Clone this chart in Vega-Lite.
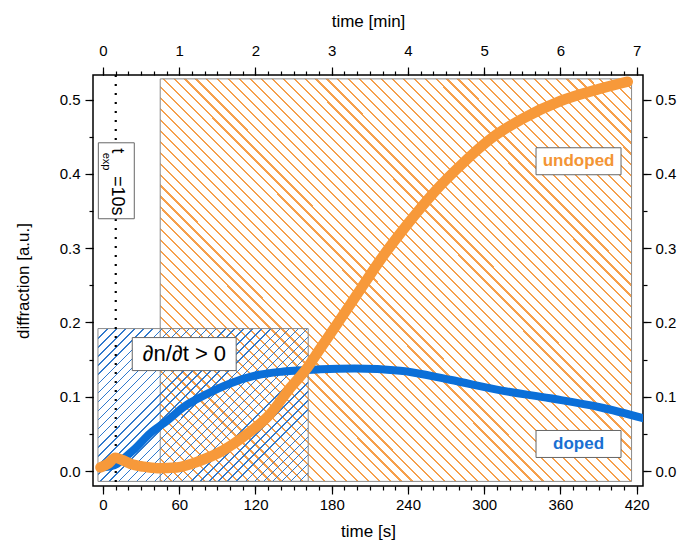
{
"$schema": "https://vega.github.io/schema/vega-lite/v6.json",
"width": 550, "height": 411,
"autosize": "none",
"padding": {"left": 93, "top": 75, "right": 36, "bottom": 57},
"background": "white",
"config": {
 "view": {"stroke": "black", "strokeWidth": 1.5},
 "axis": {"domain": false, "grid": false, "tickColor": "black", "tickWidth": 1.2, "labelColor": "black", "labelFont": "Liberation Sans", "labelFontSize": 15, "titleFont": "Liberation Sans", "titleFontSize": 17, "titleFontWeight": "normal", "titleColor": "black", "labelFlush": false, "labelOverlap": false}
},
"resolve": {"axis": {"x": "independent", "y": "independent"}},
"layer": [
 {"data": {"values": [{"x1": 45, "x2": 416, "y1": -0.0138, "y2": 0.5278}]},
  "mark": {"type": "rect", "stroke": "#8a8a8a", "strokeWidth": 1, "fill": {"gradient": "linear", "x1": 0, "y1": 1, "x2": 1.0723, "y2": 0.0853, "stops": [
{"offset":0,"color":"#f6a04c"},{"offset":0.0025,"color":"#f6a04c"},{"offset":0.0025,"color":"#fff"},{"offset":0.0125,"color":"#fff"},
{"offset":0.0125,"color":"#f6a04c"},{"offset":0.015,"color":"#f6a04c"},{"offset":0.015,"color":"#fff"},{"offset":0.025,"color":"#fff"},
{"offset":0.025,"color":"#f6a04c"},{"offset":0.0275,"color":"#f6a04c"},{"offset":0.0275,"color":"#fff"},{"offset":0.0375,"color":"#fff"},
{"offset":0.0375,"color":"#f6a04c"},{"offset":0.04,"color":"#f6a04c"},{"offset":0.04,"color":"#fff"},{"offset":0.05,"color":"#fff"},
{"offset":0.05,"color":"#f6a04c"},{"offset":0.0525,"color":"#f6a04c"},{"offset":0.0525,"color":"#fff"},{"offset":0.0625,"color":"#fff"},
{"offset":0.0625,"color":"#f6a04c"},{"offset":0.065,"color":"#f6a04c"},{"offset":0.065,"color":"#fff"},{"offset":0.075,"color":"#fff"},
{"offset":0.075,"color":"#f6a04c"},{"offset":0.0775,"color":"#f6a04c"},{"offset":0.0775,"color":"#fff"},{"offset":0.0875,"color":"#fff"},
{"offset":0.0875,"color":"#f6a04c"},{"offset":0.09,"color":"#f6a04c"},{"offset":0.09,"color":"#fff"},{"offset":0.1,"color":"#fff"},
{"offset":0.1,"color":"#f6a04c"},{"offset":0.1025,"color":"#f6a04c"},{"offset":0.1025,"color":"#fff"},{"offset":0.1125,"color":"#fff"},
{"offset":0.1125,"color":"#f6a04c"},{"offset":0.115,"color":"#f6a04c"},{"offset":0.115,"color":"#fff"},{"offset":0.125,"color":"#fff"},
{"offset":0.125,"color":"#f6a04c"},{"offset":0.1275,"color":"#f6a04c"},{"offset":0.1275,"color":"#fff"},{"offset":0.1375,"color":"#fff"},
{"offset":0.1375,"color":"#f6a04c"},{"offset":0.14,"color":"#f6a04c"},{"offset":0.14,"color":"#fff"},{"offset":0.15,"color":"#fff"},
{"offset":0.15,"color":"#f6a04c"},{"offset":0.1525,"color":"#f6a04c"},{"offset":0.1525,"color":"#fff"},{"offset":0.1625,"color":"#fff"},
{"offset":0.1625,"color":"#f6a04c"},{"offset":0.165,"color":"#f6a04c"},{"offset":0.165,"color":"#fff"},{"offset":0.175,"color":"#fff"},
{"offset":0.175,"color":"#f6a04c"},{"offset":0.1775,"color":"#f6a04c"},{"offset":0.1775,"color":"#fff"},{"offset":0.1875,"color":"#fff"},
{"offset":0.1875,"color":"#f6a04c"},{"offset":0.19,"color":"#f6a04c"},{"offset":0.19,"color":"#fff"},{"offset":0.2,"color":"#fff"},
{"offset":0.2,"color":"#f6a04c"},{"offset":0.2025,"color":"#f6a04c"},{"offset":0.2025,"color":"#fff"},{"offset":0.2125,"color":"#fff"},
{"offset":0.2125,"color":"#f6a04c"},{"offset":0.215,"color":"#f6a04c"},{"offset":0.215,"color":"#fff"},{"offset":0.225,"color":"#fff"},
{"offset":0.225,"color":"#f6a04c"},{"offset":0.2275,"color":"#f6a04c"},{"offset":0.2275,"color":"#fff"},{"offset":0.2375,"color":"#fff"},
{"offset":0.2375,"color":"#f6a04c"},{"offset":0.24,"color":"#f6a04c"},{"offset":0.24,"color":"#fff"},{"offset":0.25,"color":"#fff"},
{"offset":0.25,"color":"#f6a04c"},{"offset":0.2525,"color":"#f6a04c"},{"offset":0.2525,"color":"#fff"},{"offset":0.2625,"color":"#fff"},
{"offset":0.2625,"color":"#f6a04c"},{"offset":0.265,"color":"#f6a04c"},{"offset":0.265,"color":"#fff"},{"offset":0.275,"color":"#fff"},
{"offset":0.275,"color":"#f6a04c"},{"offset":0.2775,"color":"#f6a04c"},{"offset":0.2775,"color":"#fff"},{"offset":0.2875,"color":"#fff"},
{"offset":0.2875,"color":"#f6a04c"},{"offset":0.29,"color":"#f6a04c"},{"offset":0.29,"color":"#fff"},{"offset":0.3,"color":"#fff"},
{"offset":0.3,"color":"#f6a04c"},{"offset":0.3025,"color":"#f6a04c"},{"offset":0.3025,"color":"#fff"},{"offset":0.3125,"color":"#fff"},
{"offset":0.3125,"color":"#f6a04c"},{"offset":0.315,"color":"#f6a04c"},{"offset":0.315,"color":"#fff"},{"offset":0.325,"color":"#fff"},
{"offset":0.325,"color":"#f6a04c"},{"offset":0.3275,"color":"#f6a04c"},{"offset":0.3275,"color":"#fff"},{"offset":0.3375,"color":"#fff"},
{"offset":0.3375,"color":"#f6a04c"},{"offset":0.34,"color":"#f6a04c"},{"offset":0.34,"color":"#fff"},{"offset":0.35,"color":"#fff"},
{"offset":0.35,"color":"#f6a04c"},{"offset":0.3525,"color":"#f6a04c"},{"offset":0.3525,"color":"#fff"},{"offset":0.3625,"color":"#fff"},
{"offset":0.3625,"color":"#f6a04c"},{"offset":0.365,"color":"#f6a04c"},{"offset":0.365,"color":"#fff"},{"offset":0.375,"color":"#fff"},
{"offset":0.375,"color":"#f6a04c"},{"offset":0.3775,"color":"#f6a04c"},{"offset":0.3775,"color":"#fff"},{"offset":0.3875,"color":"#fff"},
{"offset":0.3875,"color":"#f6a04c"},{"offset":0.39,"color":"#f6a04c"},{"offset":0.39,"color":"#fff"},{"offset":0.4,"color":"#fff"},
{"offset":0.4,"color":"#f6a04c"},{"offset":0.4025,"color":"#f6a04c"},{"offset":0.4025,"color":"#fff"},{"offset":0.4125,"color":"#fff"},
{"offset":0.4125,"color":"#f6a04c"},{"offset":0.415,"color":"#f6a04c"},{"offset":0.415,"color":"#fff"},{"offset":0.425,"color":"#fff"},
{"offset":0.425,"color":"#f6a04c"},{"offset":0.4275,"color":"#f6a04c"},{"offset":0.4275,"color":"#fff"},{"offset":0.4375,"color":"#fff"},
{"offset":0.4375,"color":"#f6a04c"},{"offset":0.44,"color":"#f6a04c"},{"offset":0.44,"color":"#fff"},{"offset":0.45,"color":"#fff"},
{"offset":0.45,"color":"#f6a04c"},{"offset":0.4525,"color":"#f6a04c"},{"offset":0.4525,"color":"#fff"},{"offset":0.4625,"color":"#fff"},
{"offset":0.4625,"color":"#f6a04c"},{"offset":0.465,"color":"#f6a04c"},{"offset":0.465,"color":"#fff"},{"offset":0.475,"color":"#fff"},
{"offset":0.475,"color":"#f6a04c"},{"offset":0.4775,"color":"#f6a04c"},{"offset":0.4775,"color":"#fff"},{"offset":0.4875,"color":"#fff"},
{"offset":0.4875,"color":"#f6a04c"},{"offset":0.49,"color":"#f6a04c"},{"offset":0.49,"color":"#fff"},{"offset":0.5,"color":"#fff"},
{"offset":0.5,"color":"#f6a04c"},{"offset":0.5025,"color":"#f6a04c"},{"offset":0.5025,"color":"#fff"},{"offset":0.5125,"color":"#fff"},
{"offset":0.5125,"color":"#f6a04c"},{"offset":0.515,"color":"#f6a04c"},{"offset":0.515,"color":"#fff"},{"offset":0.525,"color":"#fff"},
{"offset":0.525,"color":"#f6a04c"},{"offset":0.5275,"color":"#f6a04c"},{"offset":0.5275,"color":"#fff"},{"offset":0.5375,"color":"#fff"},
{"offset":0.5375,"color":"#f6a04c"},{"offset":0.54,"color":"#f6a04c"},{"offset":0.54,"color":"#fff"},{"offset":0.55,"color":"#fff"},
{"offset":0.55,"color":"#f6a04c"},{"offset":0.5525,"color":"#f6a04c"},{"offset":0.5525,"color":"#fff"},{"offset":0.5625,"color":"#fff"},
{"offset":0.5625,"color":"#f6a04c"},{"offset":0.565,"color":"#f6a04c"},{"offset":0.565,"color":"#fff"},{"offset":0.575,"color":"#fff"},
{"offset":0.575,"color":"#f6a04c"},{"offset":0.5775,"color":"#f6a04c"},{"offset":0.5775,"color":"#fff"},{"offset":0.5875,"color":"#fff"},
{"offset":0.5875,"color":"#f6a04c"},{"offset":0.59,"color":"#f6a04c"},{"offset":0.59,"color":"#fff"},{"offset":0.6,"color":"#fff"},
{"offset":0.6,"color":"#f6a04c"},{"offset":0.6025,"color":"#f6a04c"},{"offset":0.6025,"color":"#fff"},{"offset":0.6125,"color":"#fff"},
{"offset":0.6125,"color":"#f6a04c"},{"offset":0.615,"color":"#f6a04c"},{"offset":0.615,"color":"#fff"},{"offset":0.625,"color":"#fff"},
{"offset":0.625,"color":"#f6a04c"},{"offset":0.6275,"color":"#f6a04c"},{"offset":0.6275,"color":"#fff"},{"offset":0.6375,"color":"#fff"},
{"offset":0.6375,"color":"#f6a04c"},{"offset":0.64,"color":"#f6a04c"},{"offset":0.64,"color":"#fff"},{"offset":0.65,"color":"#fff"},
{"offset":0.65,"color":"#f6a04c"},{"offset":0.6525,"color":"#f6a04c"},{"offset":0.6525,"color":"#fff"},{"offset":0.6625,"color":"#fff"},
{"offset":0.6625,"color":"#f6a04c"},{"offset":0.665,"color":"#f6a04c"},{"offset":0.665,"color":"#fff"},{"offset":0.675,"color":"#fff"},
{"offset":0.675,"color":"#f6a04c"},{"offset":0.6775,"color":"#f6a04c"},{"offset":0.6775,"color":"#fff"},{"offset":0.6875,"color":"#fff"},
{"offset":0.6875,"color":"#f6a04c"},{"offset":0.69,"color":"#f6a04c"},{"offset":0.69,"color":"#fff"},{"offset":0.7,"color":"#fff"},
{"offset":0.7,"color":"#f6a04c"},{"offset":0.7025,"color":"#f6a04c"},{"offset":0.7025,"color":"#fff"},{"offset":0.7125,"color":"#fff"},
{"offset":0.7125,"color":"#f6a04c"},{"offset":0.715,"color":"#f6a04c"},{"offset":0.715,"color":"#fff"},{"offset":0.725,"color":"#fff"},
{"offset":0.725,"color":"#f6a04c"},{"offset":0.7275,"color":"#f6a04c"},{"offset":0.7275,"color":"#fff"},{"offset":0.7375,"color":"#fff"},
{"offset":0.7375,"color":"#f6a04c"},{"offset":0.74,"color":"#f6a04c"},{"offset":0.74,"color":"#fff"},{"offset":0.75,"color":"#fff"},
{"offset":0.75,"color":"#f6a04c"},{"offset":0.7525,"color":"#f6a04c"},{"offset":0.7525,"color":"#fff"},{"offset":0.7625,"color":"#fff"},
{"offset":0.7625,"color":"#f6a04c"},{"offset":0.765,"color":"#f6a04c"},{"offset":0.765,"color":"#fff"},{"offset":0.775,"color":"#fff"},
{"offset":0.775,"color":"#f6a04c"},{"offset":0.7775,"color":"#f6a04c"},{"offset":0.7775,"color":"#fff"},{"offset":0.7875,"color":"#fff"},
{"offset":0.7875,"color":"#f6a04c"},{"offset":0.79,"color":"#f6a04c"},{"offset":0.79,"color":"#fff"},{"offset":0.8,"color":"#fff"},
{"offset":0.8,"color":"#f6a04c"},{"offset":0.8025,"color":"#f6a04c"},{"offset":0.8025,"color":"#fff"},{"offset":0.8125,"color":"#fff"},
{"offset":0.8125,"color":"#f6a04c"},{"offset":0.815,"color":"#f6a04c"},{"offset":0.815,"color":"#fff"},{"offset":0.825,"color":"#fff"},
{"offset":0.825,"color":"#f6a04c"},{"offset":0.8275,"color":"#f6a04c"},{"offset":0.8275,"color":"#fff"},{"offset":0.8375,"color":"#fff"},
{"offset":0.8375,"color":"#f6a04c"},{"offset":0.84,"color":"#f6a04c"},{"offset":0.84,"color":"#fff"},{"offset":0.85,"color":"#fff"},
{"offset":0.85,"color":"#f6a04c"},{"offset":0.8525,"color":"#f6a04c"},{"offset":0.8525,"color":"#fff"},{"offset":0.8625,"color":"#fff"},
{"offset":0.8625,"color":"#f6a04c"},{"offset":0.865,"color":"#f6a04c"},{"offset":0.865,"color":"#fff"},{"offset":0.875,"color":"#fff"},
{"offset":0.875,"color":"#f6a04c"},{"offset":0.8775,"color":"#f6a04c"},{"offset":0.8775,"color":"#fff"},{"offset":0.8875,"color":"#fff"},
{"offset":0.8875,"color":"#f6a04c"},{"offset":0.89,"color":"#f6a04c"},{"offset":0.89,"color":"#fff"},{"offset":0.9,"color":"#fff"},
{"offset":0.9,"color":"#f6a04c"},{"offset":0.9025,"color":"#f6a04c"},{"offset":0.9025,"color":"#fff"},{"offset":0.9125,"color":"#fff"},
{"offset":0.9125,"color":"#f6a04c"},{"offset":0.915,"color":"#f6a04c"},{"offset":0.915,"color":"#fff"},{"offset":0.925,"color":"#fff"},
{"offset":0.925,"color":"#f6a04c"},{"offset":0.9275,"color":"#f6a04c"},{"offset":0.9275,"color":"#fff"},{"offset":0.9375,"color":"#fff"},
{"offset":0.9375,"color":"#f6a04c"},{"offset":0.94,"color":"#f6a04c"},{"offset":0.94,"color":"#fff"},{"offset":0.95,"color":"#fff"},
{"offset":0.95,"color":"#f6a04c"},{"offset":0.9525,"color":"#f6a04c"},{"offset":0.9525,"color":"#fff"},{"offset":0.9625,"color":"#fff"},
{"offset":0.9625,"color":"#f6a04c"},{"offset":0.965,"color":"#f6a04c"},{"offset":0.965,"color":"#fff"},{"offset":0.975,"color":"#fff"},
{"offset":0.975,"color":"#f6a04c"},{"offset":0.9775,"color":"#f6a04c"},{"offset":0.9775,"color":"#fff"},{"offset":0.9875,"color":"#fff"},
{"offset":0.9875,"color":"#f6a04c"},{"offset":0.99,"color":"#f6a04c"},{"offset":0.99,"color":"#fff"},{"offset":1,"color":"#fff"}
  ]}},
  "encoding": {
   "x": {"field": "x1", "type": "quantitative", "scale": {"domain": [-7.9, 425], "nice": false, "zero": false},
    "axis": {"orient": "bottom", "values": [0, 60, 120, 180, 240, 300, 360, 420], "title": "time [s]", "tickSize": 8, "labelPadding": 3, "titlePadding": 11}},
   "x2": {"field": "x2"},
   "y": {"field": "y1", "type": "quantitative", "scale": {"domain": [-0.02, 0.533], "nice": false, "zero": false},
    "axis": {"orient": "left", "values": [0, 0.1, 0.2, 0.3, 0.4, 0.5], "format": ".1f", "title": "diffraction [a.u.]", "tickSize": 8, "labelPadding": 5, "titlePadding": 27}},
   "y2": {"field": "y2"}
  }
 },
 {"data": {"values": [{"x1": -4, "x2": 161.5, "y1": -0.0138, "y2": 0.1918}]},
  "mark": {"type": "rect", "stroke": "#8a8a8a", "strokeWidth": 1, "fill": {"gradient": "linear", "x1": 0, "y1": 0, "x2": 1.13, "y2": 0.821, "stops": [
{"offset":0,"color":"#3079cc"},{"offset":0.004,"color":"#3079cc"},{"offset":0.004,"color":"transparent"},{"offset":0.025,"color":"transparent"},
{"offset":0.025,"color":"#3079cc"},{"offset":0.029,"color":"#3079cc"},{"offset":0.029,"color":"transparent"},{"offset":0.05,"color":"transparent"},
{"offset":0.05,"color":"#3079cc"},{"offset":0.054,"color":"#3079cc"},{"offset":0.054,"color":"transparent"},{"offset":0.075,"color":"transparent"},
{"offset":0.075,"color":"#3079cc"},{"offset":0.079,"color":"#3079cc"},{"offset":0.079,"color":"transparent"},{"offset":0.1,"color":"transparent"},
{"offset":0.1,"color":"#3079cc"},{"offset":0.104,"color":"#3079cc"},{"offset":0.104,"color":"transparent"},{"offset":0.125,"color":"transparent"},
{"offset":0.125,"color":"#3079cc"},{"offset":0.129,"color":"#3079cc"},{"offset":0.129,"color":"transparent"},{"offset":0.15,"color":"transparent"},
{"offset":0.15,"color":"#3079cc"},{"offset":0.154,"color":"#3079cc"},{"offset":0.154,"color":"transparent"},{"offset":0.175,"color":"transparent"},
{"offset":0.175,"color":"#3079cc"},{"offset":0.179,"color":"#3079cc"},{"offset":0.179,"color":"transparent"},{"offset":0.2,"color":"transparent"},
{"offset":0.2,"color":"#3079cc"},{"offset":0.204,"color":"#3079cc"},{"offset":0.204,"color":"transparent"},{"offset":0.225,"color":"transparent"},
{"offset":0.225,"color":"#3079cc"},{"offset":0.229,"color":"#3079cc"},{"offset":0.229,"color":"transparent"},{"offset":0.25,"color":"transparent"},
{"offset":0.25,"color":"#3079cc"},{"offset":0.254,"color":"#3079cc"},{"offset":0.254,"color":"transparent"},{"offset":0.275,"color":"transparent"},
{"offset":0.275,"color":"#3079cc"},{"offset":0.279,"color":"#3079cc"},{"offset":0.279,"color":"transparent"},{"offset":0.3,"color":"transparent"},
{"offset":0.3,"color":"#3079cc"},{"offset":0.304,"color":"#3079cc"},{"offset":0.304,"color":"transparent"},{"offset":0.325,"color":"transparent"},
{"offset":0.325,"color":"#3079cc"},{"offset":0.329,"color":"#3079cc"},{"offset":0.329,"color":"transparent"},{"offset":0.35,"color":"transparent"},
{"offset":0.35,"color":"#3079cc"},{"offset":0.354,"color":"#3079cc"},{"offset":0.354,"color":"transparent"},{"offset":0.375,"color":"transparent"},
{"offset":0.375,"color":"#3079cc"},{"offset":0.379,"color":"#3079cc"},{"offset":0.379,"color":"transparent"},{"offset":0.4,"color":"transparent"},
{"offset":0.4,"color":"#3079cc"},{"offset":0.404,"color":"#3079cc"},{"offset":0.404,"color":"transparent"},{"offset":0.425,"color":"transparent"},
{"offset":0.425,"color":"#3079cc"},{"offset":0.429,"color":"#3079cc"},{"offset":0.429,"color":"transparent"},{"offset":0.45,"color":"transparent"},
{"offset":0.45,"color":"#3079cc"},{"offset":0.454,"color":"#3079cc"},{"offset":0.454,"color":"transparent"},{"offset":0.475,"color":"transparent"},
{"offset":0.475,"color":"#3079cc"},{"offset":0.479,"color":"#3079cc"},{"offset":0.479,"color":"transparent"},{"offset":0.5,"color":"transparent"},
{"offset":0.5,"color":"#3079cc"},{"offset":0.504,"color":"#3079cc"},{"offset":0.504,"color":"transparent"},{"offset":0.525,"color":"transparent"},
{"offset":0.525,"color":"#3079cc"},{"offset":0.529,"color":"#3079cc"},{"offset":0.529,"color":"transparent"},{"offset":0.55,"color":"transparent"},
{"offset":0.55,"color":"#3079cc"},{"offset":0.554,"color":"#3079cc"},{"offset":0.554,"color":"transparent"},{"offset":0.575,"color":"transparent"},
{"offset":0.575,"color":"#3079cc"},{"offset":0.579,"color":"#3079cc"},{"offset":0.579,"color":"transparent"},{"offset":0.6,"color":"transparent"},
{"offset":0.6,"color":"#3079cc"},{"offset":0.604,"color":"#3079cc"},{"offset":0.604,"color":"transparent"},{"offset":0.625,"color":"transparent"},
{"offset":0.625,"color":"#3079cc"},{"offset":0.629,"color":"#3079cc"},{"offset":0.629,"color":"transparent"},{"offset":0.65,"color":"transparent"},
{"offset":0.65,"color":"#3079cc"},{"offset":0.654,"color":"#3079cc"},{"offset":0.654,"color":"transparent"},{"offset":0.675,"color":"transparent"},
{"offset":0.675,"color":"#3079cc"},{"offset":0.679,"color":"#3079cc"},{"offset":0.679,"color":"transparent"},{"offset":0.7,"color":"transparent"},
{"offset":0.7,"color":"#3079cc"},{"offset":0.704,"color":"#3079cc"},{"offset":0.704,"color":"transparent"},{"offset":0.725,"color":"transparent"},
{"offset":0.725,"color":"#3079cc"},{"offset":0.729,"color":"#3079cc"},{"offset":0.729,"color":"transparent"},{"offset":0.75,"color":"transparent"},
{"offset":0.75,"color":"#3079cc"},{"offset":0.754,"color":"#3079cc"},{"offset":0.754,"color":"transparent"},{"offset":0.775,"color":"transparent"},
{"offset":0.775,"color":"#3079cc"},{"offset":0.779,"color":"#3079cc"},{"offset":0.779,"color":"transparent"},{"offset":0.8,"color":"transparent"},
{"offset":0.8,"color":"#3079cc"},{"offset":0.804,"color":"#3079cc"},{"offset":0.804,"color":"transparent"},{"offset":0.825,"color":"transparent"},
{"offset":0.825,"color":"#3079cc"},{"offset":0.829,"color":"#3079cc"},{"offset":0.829,"color":"transparent"},{"offset":0.85,"color":"transparent"},
{"offset":0.85,"color":"#3079cc"},{"offset":0.854,"color":"#3079cc"},{"offset":0.854,"color":"transparent"},{"offset":0.875,"color":"transparent"},
{"offset":0.875,"color":"#3079cc"},{"offset":0.879,"color":"#3079cc"},{"offset":0.879,"color":"transparent"},{"offset":0.9,"color":"transparent"},
{"offset":0.9,"color":"#3079cc"},{"offset":0.904,"color":"#3079cc"},{"offset":0.904,"color":"transparent"},{"offset":0.925,"color":"transparent"},
{"offset":0.925,"color":"#3079cc"},{"offset":0.929,"color":"#3079cc"},{"offset":0.929,"color":"transparent"},{"offset":0.95,"color":"transparent"},
{"offset":0.95,"color":"#3079cc"},{"offset":0.954,"color":"#3079cc"},{"offset":0.954,"color":"transparent"},{"offset":0.975,"color":"transparent"},
{"offset":0.975,"color":"#3079cc"},{"offset":0.979,"color":"#3079cc"},{"offset":0.979,"color":"transparent"},{"offset":1,"color":"transparent"}
  ]}},
  "encoding": {
   "x": {"field": "x1", "type": "quantitative", "scale": {"domain": [-7.9, 425], "nice": false, "zero": false},
    "axis": {"orient": "bottom", "values": [0,10,20,30,40,50,60,70,80,90,100,110,120,130,140,150,160,170,180,190,200,210,220,230,240,250,260,270,280,290,300,310,320,330,340,350,360,370,380,390,400,410,420], "title": null, "labels": false, "tickSize": 4}},
   "x2": {"field": "x2"},
   "y": {"field": "y1", "type": "quantitative", "scale": {"domain": [-0.02, 0.533], "nice": false, "zero": false},
    "axis": {"orient": "left", "values": [0, 0.05, 0.1, 0.15, 0.2, 0.25, 0.3, 0.35, 0.4, 0.45, 0.5], "title": null, "labels": false, "tickSize": 4}},
   "y2": {"field": "y2"}
  }
 },
 {"data": {"values": [{"t": 10}]},
  "mark": {"type": "rule", "color": "black", "strokeWidth": 2.2, "strokeDash": [2, 7]},
  "encoding": {
   "x": {"field": "t", "type": "quantitative", "scale": {"domain": [-7.9, 425], "nice": false, "zero": false},
    "axis": {"orient": "top", "values": [0, 60, 120, 180, 240, 300, 360, 420], "labelExpr": "datum.value / 60", "title": "time [min]", "tickSize": 8, "labelPadding": 9, "titlePadding": 13}}
  }
 },
 {"data": {"values": [
   {"t": -2.1, "d": 0.005}, {"t": 5, "d": 0.006}, {"t": 11.2, "d": 0.010}, {"t": 17, "d": 0.018},
   {"t": 23.8, "d": 0.028}, {"t": 37.2, "d": 0.051}, {"t": 50.6, "d": 0.068}, {"t": 63.2, "d": 0.086},
   {"t": 82, "d": 0.104}, {"t": 100, "d": 0.118}, {"t": 121, "d": 0.129}, {"t": 142, "d": 0.134},
   {"t": 171, "d": 0.137}, {"t": 198, "d": 0.138}, {"t": 234, "d": 0.135}, {"t": 273, "d": 0.123},
   {"t": 312, "d": 0.109}, {"t": 352, "d": 0.098}, {"t": 391, "d": 0.086}, {"t": 428, "d": 0.070}
  ]},
  "mark": {"type": "line", "color": "#0b6fd8", "strokeWidth": 8, "strokeCap": "round", "interpolate": "monotone", "clip": true},
  "encoding": {
   "x": {"field": "t", "type": "quantitative", "scale": {"domain": [-7.9, 425], "nice": false, "zero": false},
    "axis": {"orient": "top", "values": [0,10,20,30,40,50,60,70,80,90,100,110,120,130,140,150,160,170,180,190,200,210,220,230,240,250,260,270,280,290,300,310,320,330,340,350,360,370,380,390,400,410,420], "title": null, "labels": false, "tickSize": 4}},
   "y": {"field": "d", "type": "quantitative", "scale": {"domain": [-0.02, 0.533], "nice": false, "zero": false},
    "axis": {"orient": "right", "values": [0, 0.1, 0.2, 0.3, 0.4, 0.5], "format": ".1f", "title": null, "tickSize": 8, "labelPadding": 4}}
  }
 },
 {"data": {"values": [
   {"t": -2, "d": 0.005}, {"t": 4, "d": 0.010}, {"t": 9.7, "d": 0.018}, {"t": 15, "d": 0.015},
   {"t": 21.5, "d": 0.010}, {"t": 32, "d": 0.006}, {"t": 43, "d": 0.004}, {"t": 58, "d": 0.005},
   {"t": 76.5, "d": 0.014}, {"t": 94.6, "d": 0.028}, {"t": 113.5, "d": 0.050}, {"t": 131.6, "d": 0.077},
   {"t": 147.3, "d": 0.112}, {"t": 160.7, "d": 0.139}, {"t": 171, "d": 0.165}, {"t": 183, "d": 0.195},
   {"t": 200, "d": 0.238}, {"t": 219, "d": 0.286}, {"t": 240, "d": 0.333}, {"t": 261, "d": 0.376},
   {"t": 283, "d": 0.414}, {"t": 305, "d": 0.447}, {"t": 330, "d": 0.474}, {"t": 360, "d": 0.498},
   {"t": 390, "d": 0.514}, {"t": 413, "d": 0.524}
  ]},
  "mark": {"type": "line", "color": "#f7993a", "strokeWidth": 10.5, "strokeCap": "round", "strokeJoin": "round", "interpolate": "monotone"},
  "encoding": {
   "x": {"field": "t", "type": "quantitative", "scale": {"domain": [-7.9, 425], "nice": false, "zero": false}, "axis": null},
   "y": {"field": "d", "type": "quantitative", "scale": {"domain": [-0.02, 0.533], "nice": false, "zero": false},
    "axis": {"orient": "right", "values": [0, 0.05, 0.1, 0.15, 0.2, 0.25, 0.3, 0.35, 0.4, 0.45, 0.5], "title": null, "labels": false, "tickSize": 4}}
  }
 },
 {"data": {"values": [
   {"x1": 340.8, "x2": 407.7, "y1": 0.3988, "y2": 0.4351},
   {"x1": 340.8, "x2": 407.7, "y1": 0.0184, "y2": 0.0547},
   {"x1": 23.0, "x2": 104.8, "y1": 0.1353, "y2": 0.1797},
   {"x1": -3.7, "x2": 24.6, "y1": 0.3396, "y2": 0.4418}
  ]},
  "mark": {"type": "rect", "fill": "white", "stroke": "#666666", "strokeWidth": 1},
  "encoding": {
   "x": {"field": "x1", "type": "quantitative", "scale": {"domain": [-7.9, 425], "nice": false, "zero": false}, "axis": null},
   "x2": {"field": "x2"},
   "y": {"field": "y1", "type": "quantitative", "scale": {"domain": [-0.02, 0.533], "nice": false, "zero": false}, "axis": null},
   "y2": {"field": "y2"}
  }
 },
 {"data": {"values": [{"t": 374.3, "d": 0.417, "label": "undoped"}]},
  "mark": {"type": "text", "font": "Liberation Sans", "fontSize": 17, "fontWeight": "bold", "color": "#f39535", "align": "center", "baseline": "middle"},
  "encoding": {
   "x": {"field": "t", "type": "quantitative", "scale": {"domain": [-7.9, 425], "nice": false, "zero": false}, "axis": null},
   "y": {"field": "d", "type": "quantitative", "scale": {"domain": [-0.02, 0.533], "nice": false, "zero": false}, "axis": null},
   "text": {"field": "label"}
  }
 },
 {"data": {"values": [{"t": 374.3, "d": 0.0366, "label": "doped"}]},
  "mark": {"type": "text", "font": "Liberation Sans", "fontSize": 17, "fontWeight": "bold", "color": "#1a70d2", "align": "center", "baseline": "middle"},
  "encoding": {
   "x": {"field": "t", "type": "quantitative", "scale": {"domain": [-7.9, 425], "nice": false, "zero": false}, "axis": null},
   "y": {"field": "d", "type": "quantitative", "scale": {"domain": [-0.02, 0.533], "nice": false, "zero": false}, "axis": null},
   "text": {"field": "label"}
  }
 },
 {"data": {"values": [{"t": 64, "d": 0.1575, "label": "∂n/∂t > 0"}]},
  "mark": {"type": "text", "font": "Liberation Sans", "fontSize": 22, "color": "black", "align": "center", "baseline": "middle"},
  "encoding": {
   "x": {"field": "t", "type": "quantitative", "scale": {"domain": [-7.9, 425], "nice": false, "zero": false}, "axis": null},
   "y": {"field": "d", "type": "quantitative", "scale": {"domain": [-0.02, 0.533], "nice": false, "zero": false}, "axis": null},
   "text": {"field": "label"}
  }
 },
 {"data": {"values": [{"t": 10.9, "d": 0.431, "label": "t"}, {"t": 10.9, "d": 0.3706, "label": "=10s"}]},
  "mark": {"type": "text", "font": "Liberation Sans", "fontSize": 18, "color": "black", "align": "center", "baseline": "middle", "angle": 90},
  "encoding": {
   "x": {"field": "t", "type": "quantitative", "scale": {"domain": [-7.9, 425], "nice": false, "zero": false}, "axis": null},
   "y": {"field": "d", "type": "quantitative", "scale": {"domain": [-0.02, 0.533], "nice": false, "zero": false}, "axis": null},
   "text": {"field": "label"}
  }
 },
 {"data": {"values": [{"t": 2.2, "d": 0.4165, "label": "exp"}]},
  "mark": {"type": "text", "font": "Liberation Sans", "fontSize": 11, "color": "black", "align": "center", "baseline": "middle", "angle": 90},
  "encoding": {
   "x": {"field": "t", "type": "quantitative", "scale": {"domain": [-7.9, 425], "nice": false, "zero": false}, "axis": null},
   "y": {"field": "d", "type": "quantitative", "scale": {"domain": [-0.02, 0.533], "nice": false, "zero": false}, "axis": null},
   "text": {"field": "label"}
  }
 }
]
}
